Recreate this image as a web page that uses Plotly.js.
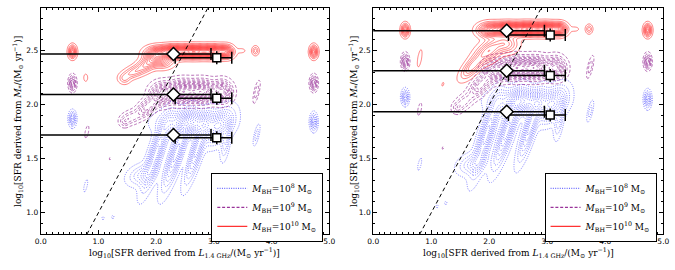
<!DOCTYPE html>
<html><head><meta charset="utf-8">
<script src="https://cdn.plot.ly/plotly-3.0.1.min.js"></script>
<style>html,body{margin:0;padding:0;background:#fff}#chart{width:675px;height:270px}</style>
</head><body><div id="chart"></div>
<script>
// ---- data ----
// density components [cx, cy, sx, sy, rho, weight] for the contour clouds
const blueLeft = [
  [2.6,1.83,0.30,0.07,0,1.6],[3.1,1.80,0.15,0.10,0.5,1.2],[2.0,1.55,0.14,0.20,0.85,1.3],
  [2.35,1.55,0.14,0.20,0.85,1.3],[2.7,1.57,0.12,0.18,0.85,1.1],[1.75,1.35,0.15,0.06,0.3,0.6],
  [3.2,1.65,0.05,0.10,0.5,0.5],[0.55,1.87,0.035,0.04,0,1.1],[4.73,1.84,0.035,0.045,0,1.1],
  [3.74,1.72,0.035,0.06,0.7,0.35],[0.78,1.25,0.03,0.05,0.7,0.16],[1.08,0.95,0.02,0.015,0,0.13],
  [1.25,0.96,0.02,0.015,0,0.13]];
const purpleLeft = [
  [2.1,2.10,0.12,0.06,0,1.5],[2.45,2.12,0.15,0.06,0,2.0],[2.8,2.12,0.15,0.06,0,2.0],
  [3.15,2.12,0.10,0.06,0,1.5],[1.85,1.98,0.12,0.06,0.6,1.0],[1.55,1.88,0.10,0.04,0.3,0.5],
  [1.45,1.84,0.05,0.03,0,0.3],[0.55,2.20,0.035,0.04,0,1.2],[4.73,2.20,0.035,0.04,0,1.2],
  [3.74,2.12,0.035,0.06,0.7,0.4],[0.8,1.75,0.03,0.05,0.6,0.16],[1.2,1.50,0.02,0.02,0.8,0.13]];
const redLeft = [
  [2.0,2.47,0.12,0.04,0,1.5],[2.3,2.49,0.15,0.035,0,2.5],[2.65,2.49,0.15,0.035,0,2.5],
  [3.0,2.49,0.15,0.035,0,2.5],[3.22,2.49,0.07,0.035,0,1.2],[3.48,2.50,0.05,0.015,0,0.15],
  [1.85,2.38,0.12,0.05,0.5,0.9],[1.6,2.30,0.12,0.04,0.5,0.6],[1.45,2.24,0.06,0.03,0,0.35],
  [2.1,2.40,0.12,0.04,0,0.8],[0.55,2.49,0.04,0.035,0,1.3],[4.73,2.49,0.04,0.035,0,1.3],
  [3.72,2.50,0.035,0.025,0,0.5],[0.78,2.25,0.03,0.03,0,0.15]];
const blueRight = [
  [2.6,2.03,0.30,0.07,0,1.6],[3.1,2.00,0.15,0.10,0.5,1.2],[1.95,1.72,0.14,0.22,0.85,1.3],
  [2.3,1.75,0.14,0.20,0.85,1.3],[2.7,1.78,0.12,0.18,0.85,1.1],[1.7,1.45,0.15,0.06,0.3,0.6],
  [3.2,1.85,0.05,0.10,0.5,0.5],[0.55,2.07,0.035,0.04,0,1.1],[4.73,2.05,0.035,0.045,0,1.1],
  [3.74,1.94,0.035,0.06,0.7,0.35],[0.8,1.45,0.03,0.05,0.7,0.16],[1.1,1.06,0.02,0.015,0,0.13],
  [1.25,1.09,0.02,0.015,0,0.13]];
const purpleRight = [
  [2.1,2.32,0.12,0.06,0,1.5],[2.45,2.34,0.15,0.06,0,2.0],[2.8,2.34,0.15,0.06,0,2.0],
  [3.15,2.34,0.10,0.06,0,1.5],[1.85,2.18,0.12,0.07,0.6,1.0],[1.55,2.02,0.10,0.05,0.5,0.5],
  [1.45,1.97,0.05,0.03,0,0.3],[0.55,2.40,0.035,0.04,0,1.2],[4.73,2.40,0.035,0.04,0,1.2],
  [3.74,2.35,0.035,0.06,0.7,0.4],[0.8,1.96,0.03,0.05,0.6,0.16],[1.2,1.60,0.02,0.02,0.8,0.13]];
const redRight = [
  [2.0,2.69,0.12,0.04,0,1.5],[2.3,2.70,0.15,0.035,0,2.5],[2.65,2.70,0.15,0.035,0,2.5],
  [3.0,2.70,0.15,0.035,0,2.5],[3.22,2.70,0.07,0.035,0,1.2],[3.48,2.70,0.05,0.015,0,0.15],
  [1.7,2.35,0.12,0.07,0.7,0.8],[2.0,2.50,0.15,0.07,0.5,1.0],[2.3,2.56,0.12,0.05,0,0.7],
  [0.55,2.69,0.04,0.035,0,1.3],[4.73,2.69,0.04,0.035,0,1.3],[3.72,2.70,0.035,0.025,0,0.5],
  [0.8,2.43,0.03,0.06,0.6,0.2],[1.2,2.19,0.02,0.02,0.6,0.13]];

// median points with error bars
const diamondX = [2.30, 2.30, 2.30];
const diamondYLeft = [1.72, 2.095, 2.47];
const diamondYRight = [1.935, 2.315, 2.685];
const diamondXPlus = [0.65, 0.65, 0.65];
const diamondXMinus = [2.6, 2.6, 2.6];
const diamondYErr = [0.06, 0.06, 0.06];
const squareX = [3.05, 3.05, 3.05];
const squareYLeft = [1.695, 2.06, 2.435];
const squareYRight = [1.905, 2.27, 2.645];
const squareXPlus = [0.26, 0.26, 0.26];
const squareXMinus = [0.72, 0.72, 0.72];
const squareYErr = [0.06, 0.06, 0.06];
const oneToOne = [0, 5];
const legendNames = [
  '<i>M</i><sub>BH</sub>=10<sup>8</sup> M<sub>⊙</sub>',
  '<i>M</i><sub>BH</sub>=10<sup>9</sup> M<sub>⊙</sub>',
  '<i>M</i><sub>BH</sub>=10<sup>10</sup> M<sub>⊙</sub>'];

// ---- build ----
function grid() {
  const gx = [], gy = [];
  for (let i = 0; i <= 250; i++) gx.push(i * 0.02);
  for (let j = 0; j <= 262; j++) gy.push(0.8 + j * 0.008);
  return [gx, gy];
}
function density(comps, gx, gy) {
  const z = [];
  for (let j = 0; j < gy.length; j++) {
    const row = new Array(gx.length).fill(0);
    for (const c of comps) {
      const [cx, cy, sx, sy, r, w] = c;
      const dy = (gy[j] - cy) / sy;
      if (Math.abs(dy) > 6) continue;
      for (let i = 0; i < gx.length; i++) {
        const dx = (gx[i] - cx) / sx;
        if (Math.abs(dx) > 6) continue;
        const q = (dx * dx - 2 * r * dx * dy + dy * dy) / (1 - r * r);
        row[i] += w * Math.exp(-0.5 * q);
      }
    }
    z.push(row);
  }
  return z;
}
const colors = ['rgb(70,70,255)', 'rgb(128,0,128)', 'rgb(255,0,0)'];
const dashes = ['1px,1.3px', '3px,1.8px', 'solid'];
const widths = [0.8, 0.7, 0.6];
const traces = [];
const sets = [[blueLeft, purpleLeft, redLeft], [blueRight, purpleRight, redRight]];
sets.forEach((s, p) => {
  s.forEach((comps, k) => {
    const [gx, gy] = grid();
    traces.push({
      type: 'contour', x: gx, y: gy, z: density(comps, gx, gy),
      xaxis: p ? 'x2' : 'x', yaxis: p ? 'y2' : 'y', autocontour: false,
      contours: {coloring: 'lines', start: 0.08, end: 4, size: 0.16, showlabels: false},
      colorscale: [[0, colors[k]], [1, colors[k]]], showscale: false, opacity: 0.8,
      line: {width: widths[k], dash: dashes[k], smoothing: 1}, hoverinfo: 'skip', showlegend: false
    });
  });
  traces.push({type: 'scatter', mode: 'lines', x: oneToOne, y: oneToOne,
    xaxis: p ? 'x2' : 'x', yaxis: p ? 'y2' : 'y',
    line: {color: 'black', width: 1, dash: '4px,3px'}, showlegend: false, hoverinfo: 'skip'});
  traces.push({type: 'scatter', mode: 'markers', x: squareX, y: p ? squareYRight : squareYLeft,
    xaxis: p ? 'x2' : 'x', yaxis: p ? 'y2' : 'y',
    marker: {symbol: 'square', size: 8, color: 'white', line: {color: 'black', width: 1.5}},
    error_x: {type: 'data', symmetric: false, array: squareXPlus, arrayminus: squareXMinus, color: 'black', thickness: 1.5, width: 6},
    error_y: {type: 'data', array: squareYErr, color: 'black', thickness: 1.5, width: 0},
    showlegend: false, hoverinfo: 'skip'});
  traces.push({type: 'scatter', mode: 'markers', x: diamondX, y: p ? diamondYRight : diamondYLeft,
    xaxis: p ? 'x2' : 'x', yaxis: p ? 'y2' : 'y',
    marker: {symbol: 'diamond', size: 10, color: 'white', line: {color: 'black', width: 1.5}},
    error_x: {type: 'data', symmetric: false, array: diamondXPlus, arrayminus: diamondXMinus, color: 'black', thickness: 1.5, width: 6},
    error_y: {type: 'data', array: diamondYErr, color: 'black', thickness: 1.5, width: 0},
    showlegend: false, hoverinfo: 'skip'});
  legendNames.forEach((nm, k) => {
    traces.push({type: 'scatter', mode: 'lines', x: [null], y: [null], name: nm,
      xaxis: p ? 'x2' : 'x', yaxis: p ? 'y2' : 'y', legend: p ? 'legend2' : 'legend',
      line: {color: colors[k], width: 1, dash: dashes[k]}});
  });
});

const serif = 'DejaVu Serif';
const xTitle = 'log<sub>10</sub>[SFR derived from <i>L</i><sub>1.4 GHz</sub>/(M<sub>⊙</sub> yr<sup>−1</sup>)]';
const yTitle = 'log<sub>10</sub>[SFR derived from <i>M</i><sub>*</sub>/(M<sub>⊙</sub> yr<sup>−1</sup>)]';
function xa(dom, anchor) {
  return {domain: dom, anchor: anchor, range: [0, 5], dtick: 1, tick0: 0, tickformat: '.1f',
    ticks: 'inside', ticklen: 4, tickcolor: 'black', mirror: 'allticks', showline: true, linecolor: 'black', linewidth: 1,
    showgrid: false, zeroline: false, tickfont: {family: 'DejaVu Sans', size: 7.5, color: 'black'},
    minor: {ticks: 'inside', dtick: 0.1, ticklen: 2, tickcolor: 'black'}};
}
function ya(dom, anchor) {
  return {domain: dom, anchor: anchor, range: [0.8, 2.9], dtick: 0.5, tick0: 0, tickformat: '.1f',
    ticks: 'inside', ticklen: 4, tickcolor: 'black', mirror: 'allticks', showline: true, linecolor: 'black', linewidth: 1,
    showgrid: false, zeroline: false, tickfont: {family: 'DejaVu Sans', size: 7.5, color: 'black'},
    minor: {ticks: 'inside', dtick: 0.1, ticklen: 2, tickcolor: 'black'}};
}
const tfont = {family: serif, size: 9, color: 'black'};
const annotations = [
  {text: xTitle, xref: 'paper', yref: 'paper', x: 184 / 675, y: 1 - 252 / 270, showarrow: false, font: tfont, xanchor: 'center', yanchor: 'middle'},
  {text: xTitle, xref: 'paper', yref: 'paper', x: 518 / 675, y: 1 - 252 / 270, showarrow: false, font: tfont, xanchor: 'center', yanchor: 'middle'},
  {text: yTitle, xref: 'paper', yref: 'paper', x: 17 / 675, y: 1 - 122 / 270, showarrow: false, font: tfont, textangle: -90, xanchor: 'center', yanchor: 'middle'},
  {text: yTitle, xref: 'paper', yref: 'paper', x: 353 / 675, y: 1 - 122 / 270, showarrow: false, font: tfont, textangle: -90, xanchor: 'center', yanchor: 'middle'}
];
const legBase = {bgcolor: 'white', bordercolor: 'black', borderwidth: 1, xanchor: 'right', yanchor: 'top',
  font: {family: serif, size: 9, color: 'black'}, tracegroupgap: 0, itemwidth: 30};
const layout = {
  width: 675, height: 270, margin: {l: 0, r: 0, t: 0, b: 0}, paper_bgcolor: 'white', plot_bgcolor: 'white',
  xaxis: xa([0.0603, 0.4879], 'y'), yaxis: ya([0.1322, 0.9722], 'x'),
  xaxis2: xa([0.553, 0.9827], 'y2'), yaxis2: ya([0.1322, 0.9722], 'x2'),
  legend: Object.assign({x: 0.479, y: 0.36}, legBase),
  legend2: Object.assign({x: 0.9727, y: 0.36}, legBase),
  annotations: annotations, showlegend: true
};
Plotly.newPlot('chart', traces, layout, {staticPlot: true});
</script></body></html>
